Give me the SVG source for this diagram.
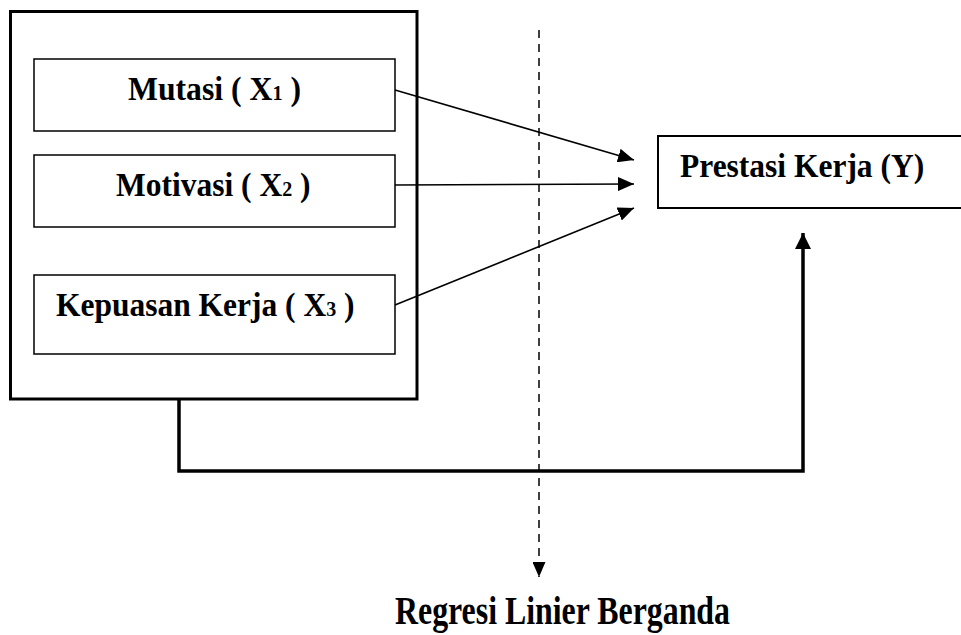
<svg xmlns="http://www.w3.org/2000/svg" width="961" height="635" viewBox="0 0 961 635">
<style>
.t{font-family:"Liberation Serif","Times New Roman",serif;font-weight:bold;font-size:31.5px;fill:#000}
.sub{font-size:20px}
.box{fill:#fff;stroke:#000;stroke-width:1.5}
.thin{fill:none;stroke:#000;stroke-width:1.6}
</style>
<defs>
<marker id="ah" markerUnits="userSpaceOnUse" markerWidth="16" markerHeight="14" refX="16" refY="7" orient="auto"><path d="M0,0 L16,7 L0,14 Z" fill="#000"/></marker>
<marker id="ahBig" markerUnits="userSpaceOnUse" markerWidth="16" markerHeight="16" refX="16" refY="8" orient="auto"><path d="M0,0 L16,8 L0,16 Z" fill="#000"/></marker>
<marker id="ahDash" markerUnits="userSpaceOnUse" markerWidth="15" markerHeight="13" refX="15" refY="6.5" orient="auto"><path d="M0,0 L15,6.5 L0,13 Z" fill="#000"/></marker>
</defs>
<rect width="961" height="635" fill="#fff"/>
<g id="group-x">
<rect x="10.5" y="11.5" width="406.5" height="387.5" fill="#fff" stroke="#000" stroke-width="3"/>
</g>
<g id="node-x1">
<rect class="box" x="34" y="59" width="361" height="72"/>
<text class="t" transform="translate(128,100) scale(1,1.08)" x="0" y="0" textLength="173" lengthAdjust="spacingAndGlyphs">Mutasi ( X<tspan class="sub">1</tspan> )</text>
</g>
<g id="node-x2">
<rect class="box" x="34" y="155" width="361" height="72"/>
<text class="t" transform="translate(116,196) scale(1,1.08)" x="0" y="0">Motivasi ( X<tspan class="sub">2</tspan> )</text>
</g>
<g id="node-x3">
<rect class="box" x="34" y="275" width="361" height="79"/>
<text class="t" transform="translate(56,316) scale(1,1.08)" x="0" y="0">Kepuasan Kerja ( X<tspan class="sub">3</tspan> )</text>
</g>
<g id="node-y">
<rect x="658" y="136" width="320" height="72" fill="#fff" stroke="#000" stroke-width="2"/>
<text class="t" transform="translate(680,177) scale(1,1.08)" x="0" y="0">Prestasi Kerja (Y)</text>
</g>
<g id="label-regresi">
<text class="t" transform="translate(395,624) scale(1,1.3)" x="0" y="0" textLength="335" lengthAdjust="spacingAndGlyphs">Regresi Linier Berganda</text>
</g>
<g id="connectors">
<line class="thin" x1="395" y1="90" x2="634" y2="160" marker-end="url(#ah)"/>
<line class="thin" x1="395" y1="185" x2="634" y2="184" marker-end="url(#ah)"/>
<line class="thin" x1="395" y1="305" x2="634" y2="208" marker-end="url(#ah)"/>
<path d="M179,399 V471 H803 V233" fill="none" stroke="#000" stroke-width="3.5" marker-end="url(#ahBig)"/>
<line x1="539" y1="30" x2="539" y2="577" stroke="#000" stroke-width="1.5" stroke-dasharray="8,6" marker-end="url(#ahDash)"/>
</g>
</svg>
